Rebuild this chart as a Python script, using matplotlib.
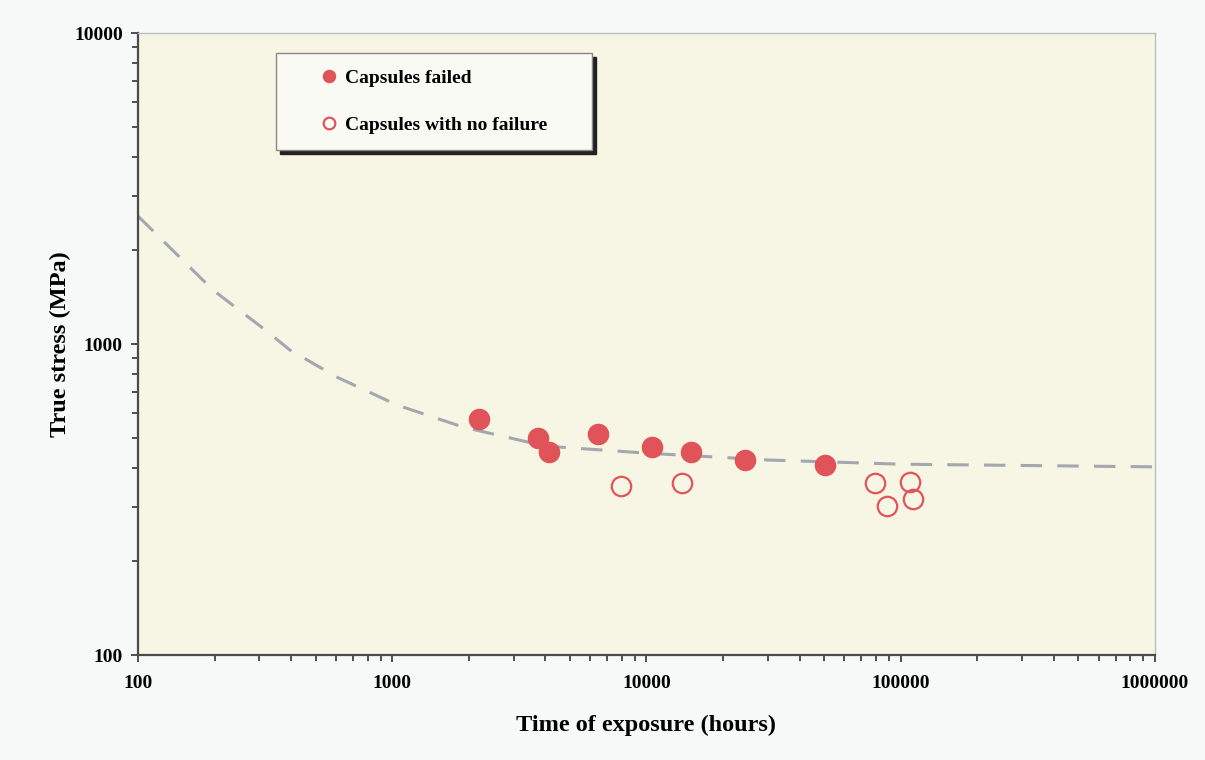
import matplotlib
matplotlib.use("Agg")
import matplotlib.pyplot as plt
from matplotlib.ticker import LogLocator, NullFormatter, FixedFormatter, FixedLocator

# capsules that failed
failed_hours = [2190, 3740, 4140, 6440, 10500, 15000, 24400, 50300]
failed_stress = [574, 499, 450, 514, 467, 450, 424, 408]

# capsules with no failure
ok_hours = [7940, 13800, 79200, 88300, 108600, 111600]
ok_stress = [349, 357, 357, 301, 359, 318]

# fitted curve (dashed)
curve_hours = [100, 197, 310, 396, 606, 1044, 1900, 2820, 4000, 10000, 30000, 100000, 1000000]
curve_stress = [2580, 1493, 1125, 957, 783, 637, 541, 502, 470, 446, 424, 411, 403]

tick_vals_x = [100, 1000, 10000, 100000, 1000000]
tick_vals_y = [100, 1000, 10000]

plt.rcParams['font.family'] = ['Liberation Serif', 'DejaVu Serif']
plt.rcParams['font.weight'] = 'bold'

fig = plt.figure(figsize=(12.05, 7.6), dpi=100, facecolor='#f7f8f8')
ax = fig.add_axes([0.1145, 0.138, 0.844, 0.8185])
ax.set_facecolor('#f7f6e4')

ax.plot(curve_hours, curve_stress, color='#a3a7ae', lw=2.2, dashes=(7, 5), zorder=2)
ax.plot(failed_hours, failed_stress, 'o', ms=14.5, color='#e05358', mec='#e05358',
        label='Capsules failed', zorder=3)
ax.plot(ok_hours, ok_stress, 'o', ms=14, mfc='none', mec='#e0545a', mew=1.6,
        label='Capsules with no failure', zorder=3)

ax.set_xscale('log')
ax.set_yscale('log')
ax.set_xlim(100, 1000000)
ax.set_ylim(100, 10000)

ax.xaxis.set_major_locator(FixedLocator(tick_vals_x))
ax.xaxis.set_major_formatter(FixedFormatter([str(v) for v in tick_vals_x]))
ax.yaxis.set_major_locator(FixedLocator(tick_vals_y))
ax.yaxis.set_major_formatter(FixedFormatter([str(v) for v in tick_vals_y]))
ax.xaxis.set_minor_locator(LogLocator(base=10, subs=range(2, 10)))
ax.yaxis.set_minor_locator(LogLocator(base=10, subs=range(2, 10)))
ax.xaxis.set_minor_formatter(NullFormatter())
ax.yaxis.set_minor_formatter(NullFormatter())

ax.tick_params(which='both', direction='out', color='#333333', width=1.2,
               labelsize=14)
ax.tick_params(which='major', length=5)
ax.tick_params(which='minor', length=4)
ax.tick_params(axis='y', pad=6)
ax.tick_params(axis='x', pad=9)

for s in ['left', 'bottom']:
    ax.spines[s].set_color('#4a4a4a')
    ax.spines[s].set_linewidth(1.6)
for s in ['top', 'right']:
    ax.spines[s].set_color('#b8bcc4')
    ax.spines[s].set_linewidth(1.0)

ax.set_xlabel('Time of exposure (hours)', fontsize=17.5, fontweight='bold', labelpad=17)
ax.set_ylabel('True stress (MPa)', fontsize=17.5, fontweight='bold', labelpad=2)

leg = ax.legend(loc='upper left', bbox_to_anchor=(0.1357, 0.968, 0.311, 0.0),
                mode='expand', fontsize=14, numpoints=1, markerscale=0.6,
                handlelength=3.8, handletextpad=-1.07, borderpad=0.83,
                labelspacing=1.53, fancybox=False, framealpha=1,
                shadow={'color': '#222222', 'alpha': 1.0, 'ox': 3, 'oy': -3},
                borderaxespad=0)
leg.get_frame().set_facecolor('#fafaf4')
leg.get_frame().set_edgecolor('#888888')
leg.get_frame().set_linewidth(1.0)

fig.savefig('out.png', dpi=100, facecolor=fig.get_facecolor())
